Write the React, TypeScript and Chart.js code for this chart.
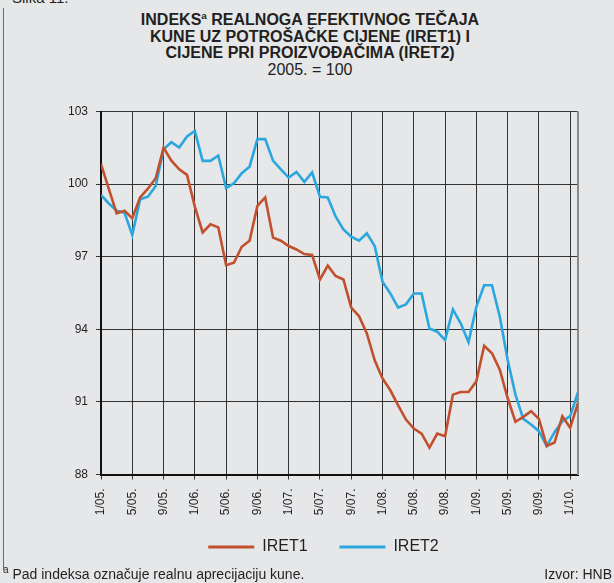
import React, { useEffect, useRef } from 'react';
import { Chart, registerables } from 'chart.js';

Chart.register(...registerables);

const FONT = "'Liberation Sans', Arial, Helvetica, sans-serif";
const TEXT = '#231f20';

// Month index 0 = 1/05 ... 61 = 2/10
const xTickLabels = ['1/05.', '5/05.', '9/05.', '1/06.', '5/06.', '9/06.', '1/07.', '5/07.', '9/07.', '1/08.', '5/08.', '9/08.', '1/09.', '5/09.', '9/09.', '1/10.'];
const monthsPerTick = 4;
const yTicks = [88, 91, 94, 97, 100, 103];

const iret1 = [
  100.82, 99.8, 98.79, 98.9, 98.59, 99.45, 99.81, 100.24, 101.51, 100.97, 100.61, 100.38,
  99.07, 98.0, 98.34, 98.21, 96.65, 96.75, 97.41, 97.66, 99.1, 99.45, 97.79, 97.66,
  97.44, 97.3, 97.11, 97.07, 96.06, 96.63, 96.2, 96.06, 94.9, 94.54, 93.83, 92.72,
  91.97, 91.48, 90.86, 90.27, 89.9, 89.69, 89.11, 89.69, 89.58, 91.3, 91.41, 91.41,
  91.85, 93.32, 93.01, 92.33, 91.16, 90.18, 90.38, 90.62, 90.3, 89.18, 89.32, 90.41,
  89.93, 90.96,
];

const iret2 = [
  99.55, 99.2, 98.9, 98.82, 97.9, 99.37, 99.48, 99.92, 101.44, 101.73, 101.51, 101.97,
  102.2, 100.96, 100.96, 101.18, 99.83, 100.03, 100.45, 100.72, 101.86, 101.86, 100.97, 100.61,
  100.27, 100.5, 100.09, 100.48, 99.48, 99.45, 98.66, 98.13, 97.83, 97.66, 97.97, 97.44,
  95.97, 95.48, 94.9, 95.03, 95.48, 95.48, 94.03, 93.9, 93.55, 94.82, 94.25, 93.47,
  94.93, 95.82, 95.82, 94.52, 92.74, 91.3, 90.3, 90.07, 89.79, 89.18, 89.75, 90.2,
  90.41, 91.4,
];

const seriesNames = ['IRET1', 'IRET2'];
const seriesColors = ['#c1502e', '#2aa7df'];

export default function App() {
  const ref = useRef<HTMLCanvasElement>(null);

  useEffect(() => {
    document.body.style.margin = '0';
    document.body.style.background = '#e6e7e8';
    const canvas = ref.current;
    if (!canvas) return;
    const toPoints = (arr: number[]) => arr.map((v, i) => ({ x: i, y: v }));
    const chart = new Chart(canvas, {
      type: 'line',
      data: {
        datasets: [iret1, iret2].map((arr, k) => ({
          label: seriesNames[k],
          data: toPoints(arr),
          borderColor: seriesColors[k],
          backgroundColor: seriesColors[k],
          borderWidth: 2.6,
          pointRadius: 0,
          tension: 0,
          fill: false,
        })),
      },
      options: {
        responsive: false,
        animation: false,
        devicePixelRatio: 1,
        layout: { padding: { top: 111.5, left: 0, right: 0, bottom: 0 } },
        plugins: {
          title: { display: false },
          tooltip: { enabled: false },
          legend: {
            position: 'bottom',
            labels: {
              font: { family: FONT, size: 16 },
              color: TEXT,
              boxWidth: 46,
              boxHeight: 3,
              padding: 18.5,
              generateLabels: (c: any) =>
                Chart.defaults.plugins.legend.labels
                  .generateLabels(c)
                  .map((l: any, i: number) => ({
                    ...l,
                    lineWidth: 0,
                    text: i === 0 ? l.text + '\u00a0\u00a0\u00a0' : l.text,
                  })),
            },
          },
        },
        scales: {
          x: {
            type: 'linear',
            min: 0,
            max: iret1.length - 1,
            afterBuildTicks: (s: any) => {
              s.ticks = xTickLabels.map((_, i) => ({ value: i * monthsPerTick }));
            },
            afterFit: (s: any) => {
              s.height = 46;
            },
            ticks: {
              autoSkip: false,
              minRotation: 90,
              maxRotation: 90,
              padding: 9,
              font: { family: FONT, size: 12 },
              color: TEXT,
              callback: (v: any) => xTickLabels[Math.round(Number(v) / monthsPerTick)] ?? '',
            },
            grid: { color: '#333', lineWidth: 1, tickLength: 5, tickColor: '#333' },
            border: { display: true, color: '#111', width: 2 },
          },
          y: {
            min: 88,
            max: 103,
            afterBuildTicks: (s: any) => {
              s.ticks = yTicks.map((v) => ({ value: v }));
            },
            afterFit: (s: any) => {
              s.width = 68;
            },
            ticks: {
              padding: 8,
              font: { family: FONT, size: 12 },
              color: TEXT,
              callback: (v: any) => String(v),
            },
            grid: { color: '#333', lineWidth: 1, tickLength: 5, tickColor: '#333' },
            border: { display: true, color: '#111', width: 2 },
          },
          y2: {
            position: 'right',
            display: true,
            min: 88,
            max: 103,
            afterFit: (s: any) => {
              s.width = 36;
            },
            ticks: { display: false },
            grid: { display: false, drawTicks: false },
            border: { display: true, color: '#8a8a8a', width: 2 },
          },
        },
      },
    } as any);
    return () => chart.destroy();
  }, []);

  const sup: React.CSSProperties = { fontSize: '0.62em', verticalAlign: 'super', lineHeight: 0 };

  return (
    <div
      style={{
        position: 'absolute',
        left: 0,
        top: 0,
        width: 614,
        height: 583,
        overflow: 'hidden',
        background: '#e6e7e8',
        fontFamily: FONT,
        color: TEXT,
      }}
    >
      <div style={{ position: 'absolute', left: 3, top: 8, width: 1, height: 562, background: '#6a6a6a' }} />
      <div style={{ position: 'absolute', left: 12, top: -11, fontSize: 15, whiteSpace: 'nowrap' }}>Slika 11.</div>
      <div
        style={{
          position: 'absolute',
          left: 0,
          top: 12,
          width: 620,
          textAlign: 'center',
          fontSize: 16,
          lineHeight: '16.7px',
          fontWeight: 'bold',
        }}
      >
        <div>
          INDEKS<span style={sup}>a</span> REALNOGA EFEKTIVNOG TEČAJA
        </div>
        <div>KUNE UZ POTROŠAČKE CIJENE (IRET1) I</div>
        <div>CIJENE PRI PROIZVOĐAČIMA (IRET2)</div>
        <div style={{ fontWeight: 'normal' }}>2005. = 100</div>
      </div>
      <div style={{ position: 'absolute', left: 33, top: 0, width: 581, height: 565 }}>
        <canvas ref={ref} width={581} height={565} style={{ display: 'block', width: 581, height: 565 }} />
      </div>
      <div style={{ position: 'absolute', left: 3, top: 566, fontSize: 14, whiteSpace: 'nowrap' }}>
        <span style={{ fontSize: 10, verticalAlign: 'super', lineHeight: 0 }}>a</span> Pad indeksa označuje realnu aprecijaciju kune.
      </div>
      <div style={{ position: 'absolute', right: 2, top: 566, fontSize: 14, whiteSpace: 'nowrap' }}>Izvor: HNB</div>
    </div>
  );
}
